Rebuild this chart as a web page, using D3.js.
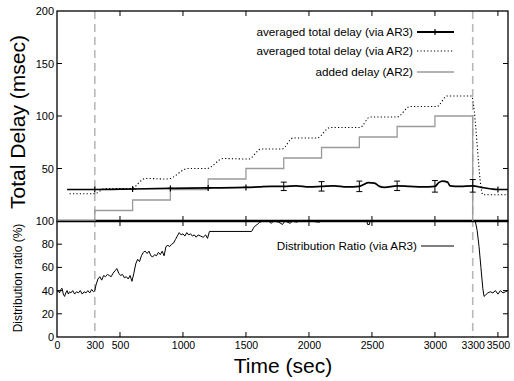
<!DOCTYPE html>
<html>
<head>
<meta charset="utf-8">
<script src="https://cdn.jsdelivr.net/npm/d3@7"></script>
<style>
  body { margin: 0; background: #fff; }
  text { font-family: "Liberation Sans", Arial, Helvetica, sans-serif; }
</style>
</head>
<body>
<svg></svg>
<script>
// ---- data ----
const xTickLabels = [0, 300, 500, 1000, 1500, 2000, 2500, 3000, 3300, 3500]
const xTickMarks = [500, 1000, 1500, 2000, 2500, 3000, 3500]
const markerTimes = [300, 600, 900, 1200, 1500, 3500]
const dashedTimes = [300, 3300]

// added delay (AR2), step function
const addedT = [0, 300, 600, 900, 1200, 1500, 1800, 2100, 2400, 2700, 3000, 3300]
const addedV = [0, 10, 20, 30, 40, 50, 60, 70, 80, 90, 100, 0]

// averaged total delay via AR2 (dotted)
const ar2T = [100, 300, 380, 590, 700, 880, 1040, 1190, 1320, 1520, 1620, 1786, 1873, 2063, 2167, 2405, 2484, 2698, 2802, 3016, 3095, 3290, 3381, 3580]
const ar2V = [26, 26, 31, 31, 40.5, 40, 50, 50, 59.5, 59, 68.5, 68.6, 79, 79, 89, 89, 99, 99, 109, 109, 119, 119, 25, 25]

// averaged total delay via AR3 (solid black)
const ar3T = [80, 300, 600, 900, 1200, 1500, 1600, 1700, 1800, 1900, 2000, 2100, 2200, 2300, 2400, 2440, 2470, 2520, 2560, 2600, 2700, 2800, 2900, 3000, 3030, 3060, 3100, 3120, 3200, 3300, 3370, 3450, 3500, 3580]
const ar3V = [30, 30, 30.5, 31, 31.5, 32, 32.5, 33, 33, 33.5, 32.5, 33, 33.5, 32.5, 33, 35, 36.5, 36, 33, 32, 33.5, 33, 32.5, 33, 36.5, 38, 37, 33.5, 33, 33.5, 32, 30.5, 30, 30]
const errT = [1800, 2100, 2400, 2700, 3000, 3300]
const errV = [4, 4.5, 5, 4.5, 5.5, 6]

// distribution ratio via AR3 (%)
const ratioT = [0, 10, 20, 30, 40, 50, 60, 70, 80, 90, 100, 110, 125, 140, 155, 170, 185, 200, 215, 230, 245, 260, 275, 290, 300,
  310, 325, 340, 355, 370, 385, 400, 415, 430, 445, 460, 475, 490, 505, 520, 535, 550, 565, 580, 595,
  610, 625, 640, 655, 670, 685, 700, 715, 730, 745, 760, 775, 790, 805, 820, 835, 850, 865, 880, 895,
  910, 925, 940, 955, 970, 985, 1000, 1015, 1030, 1045, 1060, 1075, 1090, 1105, 1120, 1140, 1160, 1180, 1195,
  1210, 1545, 1560, 1575, 1590, 1610, 1640, 1680, 1700, 1720, 1760, 1790, 1810, 1850, 1870, 1900, 1930, 2000, 2080, 2100,
  2460, 2465, 2480, 2485, 3320, 3335, 3350, 3365, 3380, 3390, 3400, 3420, 3440, 3460, 3480, 3500, 3520, 3540, 3560, 3580]
const ratioV = [39, 40, 38, 41, 42, 37, 35, 38, 40, 37, 39, 38, 40, 37, 39, 38, 40, 37, 39, 38, 40, 38, 41, 39, 40,
  45, 50, 52, 49, 53, 52, 54, 53, 52, 55, 57, 59, 55, 53, 54, 51, 52, 50, 53, 48,
  55, 63, 67, 65, 70, 73, 74, 72, 74, 70, 69, 71, 70, 73, 71, 74, 70, 78, 79, 78,
  80, 81, 84, 87, 90, 88, 89, 87, 90, 88, 89, 87, 88, 86, 88, 87, 86, 88, 85,
  91, 91, 94, 96, 97, 99, 100, 100, 98, 100, 99, 97, 100, 98, 100, 99, 100, 100, 99, 100,
  100, 97, 97, 100, 100, 92, 78, 60, 42, 35, 36, 38, 39, 38, 40, 37, 40, 38, 39, 40]

const width = 514, height = 381
const left = 57, right = 508, topY = 11, midY = 221, botY = 337

const svg = d3.select('svg').attr('width', width).attr('height', height)

const x = d3.scaleLinear().domain([0, 3580]).range([left, right])
const yTop = d3.scaleLinear().domain([0, 200]).range([midY, topY])
const yBot = d3.scaleLinear().domain([0, 100]).range([botY, midY])

const zip = (ts, vs) => ts.map((t, i) => [t, vs[i]])

// clip paths
const defs = svg.append('defs')
defs.append('clipPath').attr('id', 'clipTop').append('rect')
  .attr('x', left).attr('y', topY).attr('width', right - left).attr('height', midY - topY)
defs.append('clipPath').attr('id', 'clipBot').append('rect')
  .attr('x', left).attr('y', midY).attr('width', right - left).attr('height', botY - midY)

// dashed markers at 300 and 3300
svg.selectAll('.dash').data(dashedTimes).enter().append('line')
  .attr('x1', d => x(d)).attr('x2', d => x(d))
  .attr('y1', topY).attr('y2', botY)
  .style('stroke', '#b8b8b8').style('stroke-width', 1.6).style('stroke-dasharray', '8,5')

// panel frames
svg.append('rect').attr('x', left).attr('y', topY).attr('width', right - left).attr('height', midY - topY)
  .style('fill', 'none').style('stroke', '#000').style('stroke-width', 1.3)
svg.append('rect').attr('x', left).attr('y', midY).attr('width', right - left).attr('height', botY - midY)
  .style('fill', 'none').style('stroke', '#000').style('stroke-width', 1.3)
svg.append('line').attr('x1', left).attr('x2', right).attr('y1', midY).attr('y2', midY)
  .style('stroke', '#000').style('stroke-width', 2.4)

// inward tick marks
function ticksX(y, dir) {
  svg.append('g').selectAll('line').data(xTickMarks).enter().append('line')
    .attr('x1', d => x(d)).attr('x2', d => x(d))
    .attr('y1', y).attr('y2', y + dir * 5)
    .style('stroke', '#000').style('stroke-width', 1)
}
ticksX(topY, 1); ticksX(midY, -1); ticksX(midY, 1); ticksX(botY, -1)

function ticksY(scale, vals) {
  const g = svg.append('g')
  g.selectAll('.l').data(vals).enter().append('line')
    .attr('x1', left).attr('x2', left + 5).attr('y1', d => scale(d)).attr('y2', d => scale(d))
    .style('stroke', '#000')
  g.selectAll('.r').data(vals).enter().append('line')
    .attr('x1', right).attr('x2', right - 5).attr('y1', d => scale(d)).attr('y2', d => scale(d))
    .style('stroke', '#000')
}
ticksY(yTop, [50, 100, 150])
ticksY(yBot, [20, 40, 60, 80])

// axis labels through d3 axes (no tick lines)
const xAxis = svg.append('g').attr('transform', 'translate(0,' + botY + ')')
  .call(d3.axisBottom(x).tickValues(xTickLabels).tickFormat(d3.format('d')).tickSize(0).tickPadding(5))
xAxis.select('.domain').remove()
xAxis.selectAll('text').style('font-size', '10.5px').style('font-family', '"Liberation Sans", Arial, sans-serif')

const yTopAxis = svg.append('g').attr('transform', 'translate(' + (left - 2) + ',0)')
  .call(d3.axisLeft(yTop).tickValues([50, 100, 150, 200]).tickSize(0).tickPadding(1))
yTopAxis.select('.domain').remove()
yTopAxis.selectAll('text').style('font-size', '11px').style('font-family', '"Liberation Sans", Arial, sans-serif')

const yBotAxis = svg.append('g').attr('transform', 'translate(' + (left - 2) + ',0)')
  .call(d3.axisLeft(yBot).tickValues([0, 20, 40, 60, 80, 100]).tickSize(0).tickPadding(1))
yBotAxis.select('.domain').remove()
yBotAxis.selectAll('text').style('font-size', '11px').style('font-family', '"Liberation Sans", Arial, sans-serif')

// ---- top panel series ----
const gTop = svg.append('g').attr('clip-path', 'url(#clipTop)')

gTop.append('path').datum(zip(addedT, addedV))
  .attr('d', d3.line().x(d => x(d[0])).y(d => yTop(d[1])).curve(d3.curveStepAfter))
  .style('fill', 'none').style('stroke', '#9a9a9a').style('stroke-width', 1.3)

gTop.append('path').datum(zip(ar2T, ar2V))
  .attr('d', d3.line().x(d => x(d[0])).y(d => yTop(d[1])).curve(d3.curveMonotoneX))
  .style('fill', 'none').style('stroke', '#000').style('stroke-width', 1.1).style('stroke-dasharray', '1.2,2.2')

gTop.append('path').datum(zip(ar3T, ar3V))
  .attr('d', d3.line().x(d => x(d[0])).y(d => yTop(d[1])).curve(d3.curveMonotoneX))
  .style('fill', 'none').style('stroke', '#000').style('stroke-width', 1.7)

// error bars
const ar3At = t => d3.scaleLinear().domain(ar3T).range(ar3V)(t)
const eb = gTop.selectAll('.eb').data(zip(errT, errV)).enter().append('g')
eb.append('line').attr('x1', d => x(d[0])).attr('x2', d => x(d[0]))
  .attr('y1', d => yTop(ar3At(d[0]) + d[1])).attr('y2', d => yTop(ar3At(d[0]) - d[1]))
  .style('stroke', '#000')
eb.append('line').attr('x1', d => x(d[0]) - 3).attr('x2', d => x(d[0]) + 3)
  .attr('y1', d => yTop(ar3At(d[0]) + d[1])).attr('y2', d => yTop(ar3At(d[0]) + d[1]))
  .style('stroke', '#000')
eb.append('line').attr('x1', d => x(d[0]) - 3).attr('x2', d => x(d[0]) + 3)
  .attr('y1', d => yTop(ar3At(d[0]) - d[1])).attr('y2', d => yTop(ar3At(d[0]) - d[1]))
  .style('stroke', '#000')

// point markers
gTop.selectAll('.mk').data(markerTimes).enter().append('path')
  .attr('transform', d => 'translate(' + x(d) + ',' + yTop(ar3At(d)) + ')')
  .attr('d', 'M-3,0H3M0,-3V3')
  .style('stroke', '#000').style('stroke-width', 1.2)

// ---- bottom panel series ----
const gBot = svg.append('g').attr('clip-path', 'url(#clipBot)')
gBot.append('path').datum(zip(ratioT, ratioV))
  .attr('d', d3.line().x(d => x(d[0])).y(d => yBot(d[1])))
  .style('fill', 'none').style('stroke', '#000').style('stroke-width', 1)

// ---- legends ----
const legendRows = [
  { label: 'averaged total delay (via AR3)', y: 32, stroke: '#000', w: 1.8, dash: null, marker: true },
  { label: 'averaged total delay (via AR2)', y: 51, stroke: '#000', w: 1.1, dash: '1.2,2.2', marker: false },
  { label: 'added delay (AR2)', y: 72, stroke: '#9a9a9a', w: 1.3, dash: null, marker: false },
  { label: 'Distribution Ratio (via AR3)', y: 246, stroke: '#000', w: 1, dash: null, marker: false }
]
const lg = svg.selectAll('.lg').data(legendRows).enter().append('g')
lg.append('text').attr('x', (d, i) => i === 3 ? 417 : 413).attr('y', d => d.y + 4)
  .attr('text-anchor', 'end').style('font-size', '11.7px').text(d => d.label)
lg.append('line').attr('x1', (d, i) => i === 3 ? 421 : 417).attr('x2', 454)
  .attr('y1', d => d.y).attr('y2', d => d.y)
  .style('stroke', d => d.stroke).style('stroke-width', d => d.w)
  .style('stroke-dasharray', d => d.dash)
lg.filter(d => d.marker).append('path')
  .attr('transform', d => 'translate(435,' + d.y + ')')
  .attr('d', 'M-3,0H3M0,-3V3').style('stroke', '#000').style('stroke-width', 1.2)

// ---- axis titles ----
svg.append('text').attr('x', 283).attr('y', 373).attr('text-anchor', 'middle')
  .style('font-size', '21px').text('Time (sec)')
svg.append('text').attr('transform', 'translate(25,122)rotate(-90)').attr('text-anchor', 'middle')
  .style('font-size', '21px').text('Total Delay (msec)')
svg.append('text').attr('transform', 'translate(22,278)rotate(-90)').attr('text-anchor', 'middle')
  .style('font-size', '12px').text('Distribution ratio (%)')
</script>
</body>
</html>
